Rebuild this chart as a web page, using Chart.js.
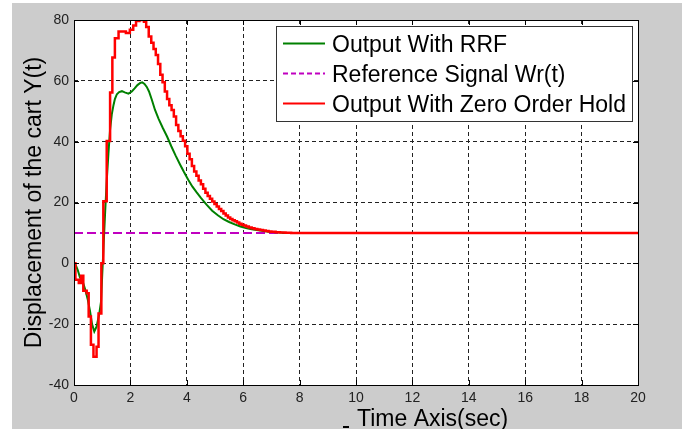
<!DOCTYPE html>
<html><head><meta charset="utf-8">
<script src="https://cdn.jsdelivr.net/npm/chart.js@4.4.0/dist/chart.umd.min.js"></script>
<style>html,body{margin:0;padding:0;background:#fff;}canvas{display:block;}</style>
</head><body>
<canvas id="c" width="688" height="429" style="width:688px;height:429px"></canvas>
<script>
// ---- data ----
const xTicks = [0, 2, 4, 6, 8, 10, 12, 14, 16, 18, 20];
const yTicks = [-40, -20, 0, 20, 40, 60, 80];
const seriesLabels = ['Output With RRF', 'Reference Signal Wr(t)', 'Output With Zero Order Hold'];
const xTitle = 'Time Axis(sec)';
const yTitle = 'Displacement of the cart Y(t)';

// Output With RRF (green)
const rrfTime = [0.00,0.06,0.13,0.21,0.31,0.40,0.49,0.57,0.64,0.72,0.80,0.90,0.96,1.00,1.04,1.10,1.16,1.22,1.28,1.34,1.40,1.45,1.52,1.60,1.70,1.80,1.93,2.05,2.15,2.25,2.35,2.42,2.50,2.58,2.66,2.76,2.87,3.00,3.15,3.30,3.45,3.60,3.76,3.90,4.05,4.20,4.35,4.50,4.70,4.90,5.10,5.30,5.50,5.70,5.90,6.10,6.30,6.60,6.90,7.20,7.50,20];
const rrfValue = [0,-0.6,-2.1,-4.6,-6.0,-8.7,-12.0,-15.8,-20.0,-22.4,-20.8,-16.4,-12.5,-4,4,16,27,36,44,49,52,54,55.6,56.3,56.6,56.2,55.8,56.5,57.5,58.6,59.3,59.5,59.0,58.0,56.5,53.8,50.5,47.5,44.5,41.7,38.5,35.5,32.5,30.0,27.5,25.2,23.3,21.5,19.3,17.3,15.8,14.5,13.6,12.8,12.1,11.6,11.2,10.8,10.4,10.2,10.0,10.0];

// Reference Signal Wr(t) (magenta dashed)
const refTime = [0, 20];
const refValue = [10, 10];

// Output With Zero Order Hold (red, staircase: value starts at the given time)
const zohTime = [0.00,0.05,0.17,0.25,0.33,0.45,0.52,0.60,0.69,0.80,0.87,0.97,1.04,1.16,1.28,1.36,1.45,1.58,1.84,1.98,2.10,2.20,2.32,2.48,2.56,2.65,2.74,2.82,2.90,2.98,3.06,3.14,3.22,3.30,3.38,3.46,3.54,3.62,3.70,3.78,3.86,3.94,4.02,4.10,4.18,4.26,4.34,4.42,4.50,4.58,4.66,4.74,4.82,4.90,4.98,5.06,5.14,5.22,5.30,5.38,5.46,5.54,5.62,5.70,5.78,5.86,5.94,6.02,6.10,6.20,6.30,6.40,6.50,6.60,6.70,6.80,6.90,7.00,7.15,7.30,7.50,7.70,20];
const zohValue = [0,-5.4,-6.5,-4.1,-9.0,-9.8,-17.5,-26.8,-30.7,-27.4,-16.5,0,20.4,40.2,56.2,67.7,74,76.2,75.7,76.8,78.2,79.7,80,79.4,77.7,74.6,72.5,70.5,68.5,65.5,62,59.5,56.5,54,52,50.4,48.3,45.5,43.5,41.8,40.3,38.5,36,34.2,32,30.2,28.8,27.2,26,24.5,23.2,22.1,21.2,20.3,19.5,18.7,17.9,17.2,16.4,15.7,15.1,14.6,14.2,13.8,13.4,13.0,12.7,12.4,12.1,11.8,11.5,11.3,11.1,10.95,10.8,10.65,10.5,10.4,10.25,10.15,10.05,10.0,10.0];

const FONT = '"Liberation Sans", Arial, sans-serif';
const pts = (ts, vs) => ts.map((t, i) => ({x: t, y: vs[i]}));

const frame = {
  id: 'frame',
  beforeDraw(chart) {
    const {ctx, chartArea: a} = chart;
    ctx.save();
    ctx.fillStyle = '#ffffff'; ctx.fillRect(0, 0, 688, 429);
    ctx.fillStyle = '#cccccc'; ctx.fillRect(12, 3, 670, 426);
    ctx.fillStyle = '#ffffff'; ctx.fillRect(a.left, a.top, a.right - a.left, a.bottom - a.top);
    ctx.restore();
  },
  afterDatasetsDraw(chart) {
    const {ctx, chartArea: a, scales} = chart;
    ctx.save();
    ctx.strokeStyle = '#000'; ctx.lineWidth = 1; ctx.setLineDash([]);
    ctx.strokeRect(a.left + 0.5, a.top + 0.5, a.right - a.left, a.bottom - a.top);
    ctx.beginPath();
    xTicks.forEach(v => {
      const px = Math.round(scales.x.getPixelForValue(v)) + 0.5;
      ctx.moveTo(px, a.bottom); ctx.lineTo(px, a.bottom - 5);
      ctx.moveTo(px, a.top); ctx.lineTo(px, a.top + 5);
    });
    yTicks.forEach(v => {
      const py = Math.round(scales.y.getPixelForValue(v)) + 0.5;
      ctx.moveTo(a.left, py); ctx.lineTo(a.left + 5, py);
      ctx.moveTo(a.right, py); ctx.lineTo(a.right - 5, py);
    });
    ctx.stroke();
    // legend box
    const lx = 276, ly = 26, lw = 356, lh = 95;
    ctx.fillStyle = '#fff'; ctx.fillRect(lx, ly, lw, lh);
    ctx.strokeStyle = '#333'; ctx.strokeRect(lx + 0.5, ly + 0.5, lw, lh);
    const order = [0, 1, 2];
    const ds = chart.data.datasets;
    order.forEach((k, i) => {
      const d = ds[k];
      const yy = 43.5 + i * 30;
      ctx.beginPath();
      ctx.strokeStyle = d.borderColor; ctx.lineWidth = 2;
      ctx.setLineDash(k === 1 ? [5, 3] : []);
      ctx.moveTo(283, yy); ctx.lineTo(325, yy); ctx.stroke();
      ctx.setLineDash([]);
      ctx.fillStyle = '#000'; ctx.font = '23px ' + FONT;
      ctx.textAlign = 'left'; ctx.textBaseline = 'alphabetic';
      ctx.fillText(d.label, 332, yy + 8.5);
    });
    ctx.restore();
  },
  afterDraw(chart) {
    const {ctx, chartArea: a} = chart;
    ctx.save();
    ctx.fillStyle = '#000';
    ctx.font = '23px ' + FONT;
    ctx.textAlign = 'left'; ctx.textBaseline = 'alphabetic';
    ctx.fillText(xTitle, 357, 426);
    ctx.fillRect(343, 426, 6, 2);
    ctx.translate(41, (a.top + a.bottom) / 2);
    ctx.rotate(-Math.PI / 2);
    ctx.textAlign = 'center';
    ctx.fillText(yTitle, 0, 0);
    ctx.restore();
  }
};

new Chart(document.getElementById('c'), {
  type: 'line',
  data: {
    datasets: [
      {label: seriesLabels[0], data: pts(rrfTime, rrfValue), borderColor: '#008000', borderWidth: 2, pointRadius: 0, tension: 0, order: 1},
      {label: seriesLabels[1], data: pts(refTime, refValue), borderColor: '#c000c0', borderWidth: 2, borderDash: [9, 4], pointRadius: 0, order: 2},
      {label: seriesLabels[2], data: pts(zohTime, zohValue), borderColor: '#ff0000', borderWidth: 2.5, pointRadius: 0, stepped: true, order: 0}
    ]
  },
  options: {
    responsive: false,
    animation: false,
    devicePixelRatio: 1,
    layout: {padding: {top: 20, right: 50, left: 0, bottom: 0}},
    plugins: {legend: {display: false}, tooltip: {enabled: false}},
    scales: {
      x: {
        type: 'linear', min: 0, max: 20,
        afterBuildTicks: s => { s.ticks = xTicks.map(v => ({value: v})); },
        afterFit: s => { s.height = 44; },
        grid: {color: '#222', lineWidth: 1, drawTicks: false},
        border: {display: false, dash: [4, 3]},
        ticks: {font: {family: FONT, size: 14}, color: '#222', padding: 5, maxRotation: 0, autoSkip: false}
      },
      y: {
        type: 'linear', min: -40, max: 80,
        afterBuildTicks: s => { s.ticks = yTicks.map(v => ({value: v})); },
        afterFit: s => { s.width = 74; },
        grid: {color: '#222', lineWidth: 1, drawTicks: false},
        border: {display: false, dash: [4, 3]},
        ticks: {font: {family: FONT, size: 14}, color: '#222', padding: 5, autoSkip: false}
      }
    }
  },
  plugins: [frame]
});
</script>
</body></html>
